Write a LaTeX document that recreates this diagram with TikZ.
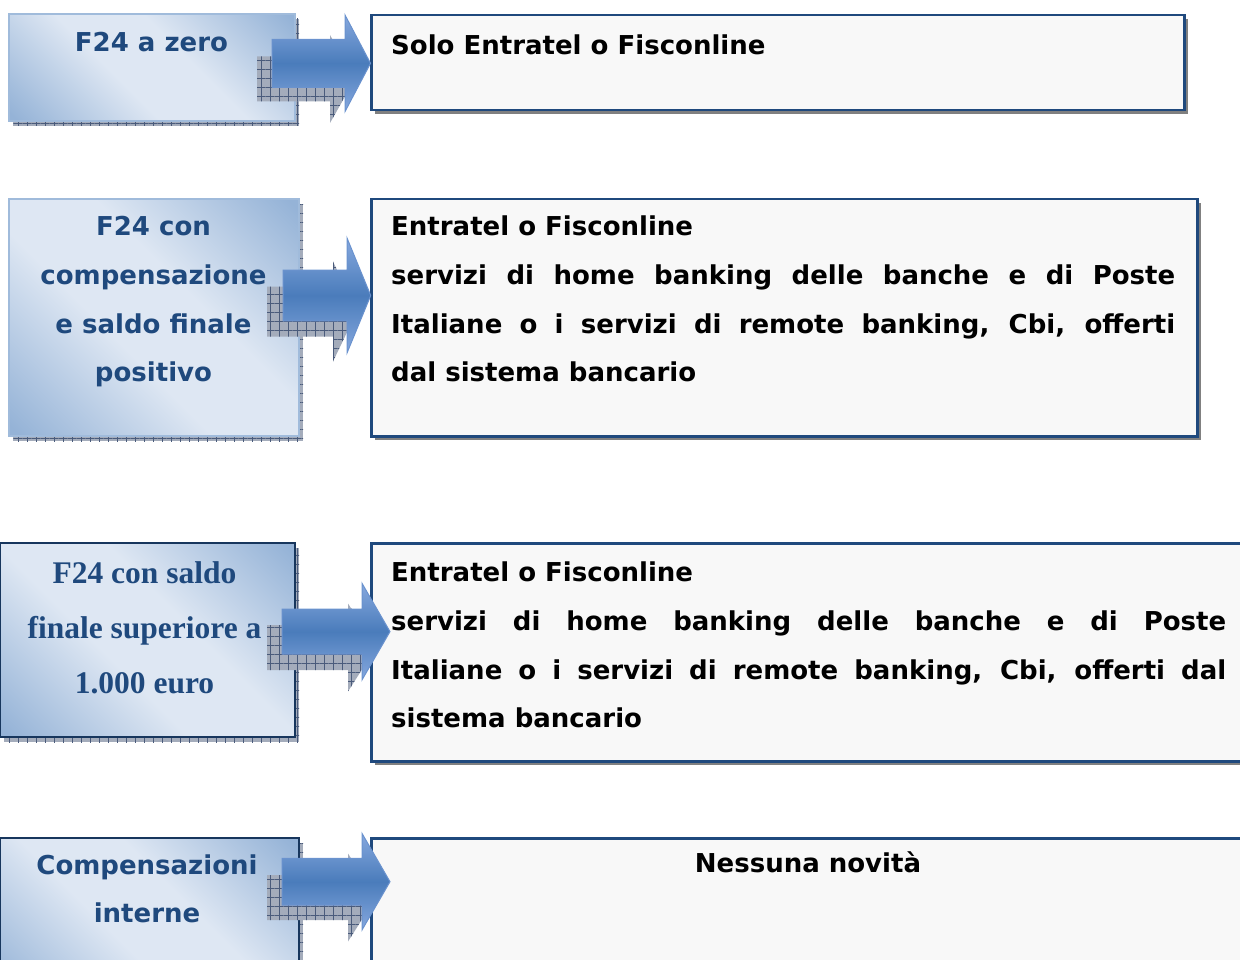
\documentclass[tikz,border=0pt]{standalone}
\usepackage{fontspec}
\setmainfont{DejaVu Sans}
\newfontfamily\verd{DejaVu Sans}
\newfontfamily\tnr{Liberation Serif}
\usetikzlibrary{patterns.meta}
\definecolor{navy}{HTML}{1F497D}
\definecolor{boxdark}{HTML}{95B3D7}
\definecolor{boxlight}{HTML}{DEE7F3}
\definecolor{darkedge}{HTML}{17365D}
\definecolor{rfill}{HTML}{F8F8F8}
\definecolor{shadowgray}{HTML}{808080}
\definecolor{arrmid}{HTML}{4A7CBB}
\definecolor{arrlight}{HTML}{86A8DE}
\definecolor{arredge}{HTML}{6A92CE}
\definecolor{hatchfill}{HTML}{A4ACBB}
\definecolor{hatchline}{HTML}{4A5B7B}
\pgfdeclarehorizontalshading{lboxshade}{100bp}{color(0bp)=(boxdark); color(16bp)=(boxdark); color(42bp)=(boxlight); color(58bp)=(boxlight); color(84bp)=(boxdark); color(100bp)=(boxdark)}
\newcommand\blockarr[7]{%
  \path[#1] (#2,#5-#6) -- (#3,#5-#6) -- (#3,#5-#7) -- (#4,#5) -- (#3,#5+#7) -- (#3,#5+#6) -- (#2,#5+#6) -- cycle;}
\begin{document}
\begin{tikzpicture}[x=1pt,y=-1pt,
  hatch/.style={preaction={fill=hatchfill},
    pattern={Hatch[distance=9pt,angle=0,line width=0.6pt]}, pattern color=hatchline},
  lbox/.style={anchor=north west, inner sep=0pt, line width=2pt,
    preaction={fill=hatchfill, transform canvas={shift={(4pt,-5pt)}}},
    preaction={pattern={Hatch[distance=9pt,angle=0,line width=0.6pt]}, pattern color=hatchline, transform canvas={shift={(4pt,-5pt)}}},
    shade, shading=lboxshade, shading angle=45},
  lboxlight/.style={lbox, draw=boxdark!90!white},
  lboxdark/.style={lbox, draw=darkedge},
  rbox/.style={anchor=north west, inner sep=0pt, draw=navy, line width=2.5pt, fill=rfill,
    preaction={fill=shadowgray, transform canvas={shift={(4pt,-4pt)}}}},
  arrowbody/.style={top color=arrlight, bottom color=arrlight, middle color=arrmid, draw=arredge, line width=1pt, line join=miter},
  ltext/.style={inner sep=0pt, anchor=base, text=navy, font=\verd\bfseries\fontsize{26}{30}\selectfont},
  ttext/.style={inner sep=0pt, anchor=base, text=navy, font=\tnr\bfseries\fontsize{31.5}{36}\selectfont},
  rtext/.style={inner sep=0pt, anchor=base west, text=black, font=\verd\bfseries\fontsize{26}{30}\selectfont}
]
\useasboundingbox (0,0) rectangle (1240,960);
\clip (0,0) rectangle (1240,960);

% right boxes
\node[rbox, minimum width=813pt, minimum height=95pt] (R1) at (370,14) {};
\node[rbox, minimum width=826pt, minimum height=237pt] (R2) at (370,198) {};
\node[rbox, minimum width=900pt, minimum height=218pt] (R3) at (370,542) {};
\node[rbox, minimum width=900pt, minimum height=160pt] (R4) at (370,837) {};

% left boxes
\node[lboxlight, minimum width=286pt, minimum height=107pt] (L1) at (8,13) {};
\node[lboxlight, minimum width=290pt, minimum height=237pt] (L2) at (8,198) {};
\node[lboxdark, minimum width=295pt, minimum height=194pt] (L3) at (-1,542) {};
\node[lboxdark, minimum width=299pt, minimum height=160pt] (L4) at (-1,837) {};

% left texts
\node[ltext] (a1) at (151.5,51.7) {F24 a zero};
\node[ltext] (b1) at (153.5,236) {F24 con};
\node[ltext] (b2) at (153.5,284.3) {compensazione};
\node[ltext] (b3) at (153.5,333.3) {e saldo finale};
\node[ltext] (b4) at (153.5,381.7) {positivo};
\node[ttext] (c1) at (144.5,583.3) {F24 con saldo};
\node[ttext] (c2) at (144.5,638.3) {finale superiore a};
\node[ttext] (c3) at (144.5,693.3) {1.000 euro};
\node[ltext] (d1) at (147,874.3) {Compensazioni};
\node[ltext] (d2) at (147,922.3) {interne};

% arrow shadows
\blockarr{hatch}{257}{330}{355}{79}{22.5}{44}
\blockarr{hatch}{267}{333}{357}{311.5}{25}{50}
\blockarr{hatch}{267}{348}{376}{647.5}{22.5}{44}
\blockarr{hatch}{267}{348}{376}{897.5}{22.5}{44}

% arrows
\blockarr{arrowbody}{272}{345}{370.5}{63.3}{24}{48.3}
\blockarr{arrowbody}{283}{347}{370.7}{295.5}{25.3}{57.5}
\blockarr{arrowbody}{282}{362}{390}{631.6}{22.5}{48.3}
\blockarr{arrowbody}{282}{362}{390}{881.7}{23.3}{48.3}

% right texts
\node[rtext] (t1) at (391,54.3) {Solo Entratel o Fisconline};
\node[rtext] (u1) at (391,235.7) {Entratel o Fisconline};
\node[rtext] (u2) at (391,284.3) {\makebox[784pt][s]{servizi di home banking delle banche e di Poste}};
\node[rtext] (u3) at (391,333) {\makebox[784pt][s]{Italiane o i servizi di remote banking, Cbi, offerti}};
\node[rtext] (u4) at (391,381.7) {dal sistema bancario};
\node[rtext] (v1) at (391,581.7) {Entratel o Fisconline};
\node[rtext] (v2) at (391,630.2) {\makebox[835pt][s]{servizi di home banking delle banche e di Poste}};
\node[rtext] (v3) at (391,679) {\makebox[835pt][s]{Italiane o i servizi di remote banking, Cbi, offerti dal}};
\node[rtext] (v4) at (391,727.7) {sistema bancario};
\node[rtext, anchor=base] (w1) at (808,872.3) {Nessuna novità};
\end{tikzpicture}
\end{document}
